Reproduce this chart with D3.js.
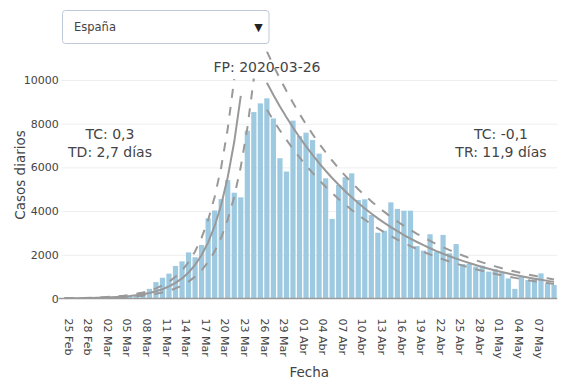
<!DOCTYPE html>
<html><head><meta charset="utf-8">
<script src="https://cdn.jsdelivr.net/npm/d3@7"></script>
<style>
body{margin:0;background:#fff}
svg{display:block}
text{font-family:"DejaVu Sans",Verdana,sans-serif;fill:#444}
</style>
</head><body>
<svg id="chart" width="567" height="387"></svg>
<script>
// ---------- data ----------
const startDate = "2020-02-24";
const casos = [3,5,8,12,18,25,35,45,60,80,110,180,290,440,750,950,1140,1490,1700,2110,1890,2450,3670,4030,4550,5420,4840,4630,7680,8530,8930,9160,8240,6420,5810,8140,7440,7590,7250,6630,5500,3640,5200,5550,5730,4510,4540,3820,3010,3100,4400,4100,4020,4020,2400,2190,2940,2140,2910,2070,2490,1580,1580,1460,1500,1230,1340,1200,920,440,1000,850,880,1150,700,620];

const growthStart = "2020-02-24";
const fitGrowth     = [9,12,15,20,25,33,42,55,71,91,118,153,197,255,330,426,551,712,920,1190,1538,1988,2569,3321,4292,5548,7172,9270];
const fitGrowthHigh = [13,17,21,28,35,46,59,77,99,127,165,214,276,357,462,596,771,997,1288,1666,2153,2783,3597,4649,6009,7767,10041];
const fitGrowthLow  = [6,8,10,13,16,21,27,36,46,59,77,99,128,166,215,277,358,463,598,774,1000,1292,1670,2159,2790,3606,4662,6026,7789,10068];

const decayStart = "2020-03-26";
const fitDecay     = [9876,9317,8790,8292,7823,7380,6962,6568,6196,5846,5515,5203,4908,4630,4368,4121,3888,3668,3460,3264,3079,2905,2741,2586,2439,2301,2171,2048,1932,1823,1720,1622,1530,1444,1362,1285,1212,1144,1079,1018,960,906,855,806,761];
const fitDecayHigh = [11308,10668,10065,9494,8957,8450,7971,7520,7094,6694,6315,5957,5620,5301,5001,4719,4452,4200,3962,3737,3525,3326,3138,2961,2793,2635,2486,2345,2212,2087,1969,1857,1752,1653,1559,1471,1388,1310,1235,1166,1099,1037,979,923,871];
const fitDecayLow  = [8642,8152,7691,7256,6845,6458,6092,5747,5422,5115,4826,4553,4295,4051,3822,3606,3402,3210,3028,2856,2694,2542,2398,2263,2134,2013,1900,1792,1691,1595,1505,1419,1339,1264,1192,1124,1061,1001,944,891,840,793,748,705,666];

const tickDates  = ["2020-02-25","2020-02-28","2020-03-02","2020-03-05","2020-03-08","2020-03-11","2020-03-14","2020-03-17","2020-03-20","2020-03-23","2020-03-26","2020-03-29","2020-04-01","2020-04-04","2020-04-07","2020-04-10","2020-04-13","2020-04-16","2020-04-19","2020-04-22","2020-04-25","2020-04-28","2020-05-01","2020-05-04","2020-05-07"];
const tickLabels = ["25 Feb","28 Feb","02 Mar","05 Mar","08 Mar","11 Mar","14 Mar","17 Mar","20 Mar","23 Mar","26 Mar","29 Mar","01 Abr","04 Abr","07 Abr","10 Abr","13 Abr","16 Abr","19 Abr","22 Abr","25 Abr","28 Abr","01 May","04 May","07 May"];
const yTicks = [0,2000,4000,6000,8000,10000];

const pais = "España";
const annLeft  = ["TC: 0,3","TD: 2,7 días"];
const annRight = ["TC: -0,1","TR: 11,9 días"];
const annPeak  = "FP: 2020-03-26";

// ---------- layout ----------
const M = {left:61.3, right:557.3, top:51.4, bottom:298.5};
const svg = d3.select("#chart");
const fmt = d3.utcFormat("%Y-%m-%d");
const parse = s => new Date(s + "T00:00:00Z");
const seq = (s, n) => d3.utcDay.range(parse(s), d3.utcDay.offset(parse(s), n)).map(fmt);

const days = seq(startDate, casos.length);
const x = d3.scaleBand().domain(days).range([M.left, M.right]).paddingInner(0.2).paddingOuter(0.1);
const xc = d => x(d) + x.bandwidth()/2;

const yMax = d3.max([].concat(casos, fitGrowth, fitGrowthHigh, fitGrowthLow, fitDecay, fitDecayHigh, fitDecayLow));
const y = d3.scaleLinear().domain([0, yMax]).range([M.bottom, M.top]);

svg.append("defs").append("clipPath").attr("id","clip")
  .append("rect").attr("x",M.left).attr("y",M.top).attr("width",M.right-M.left).attr("height",M.bottom-M.top);

// grid + y ticks
const yAxis = svg.append("g").attr("transform",`translate(${M.left},0)`)
  .call(d3.axisLeft(y).tickValues(yTicks).tickSize(-(M.right-M.left)).tickPadding(2.5).tickFormat(d3.format("d")));
yAxis.select(".domain").remove();
yAxis.selectAll(".tick line").attr("stroke","#eeeeee").attr("stroke-width",1)
  .filter(d => d === 0).remove();
yAxis.selectAll(".tick text").attr("font-size","11px").attr("fill","#444")
  .style("font-family",'"DejaVu Sans",Verdana,sans-serif');

// bars
svg.append("g").selectAll("rect").data(days.map((d,i)=>({d, v:casos[i]}))).join("rect")
  .attr("x", p => x(p.d)).attr("width", x.bandwidth())
  .attr("y", p => y(p.v)).attr("height", p => y(0) - y(p.v))
  .attr("fill","#9ecae1");

// zero line
svg.append("line").attr("x1",M.left-2.5).attr("x2",M.right).attr("y1",y(0)).attr("y2",y(0))
  .attr("stroke","#9a9a9a").attr("stroke-width",1.6);

// fit lines
const line = d3.line().x(p => xc(p.d)).y(p => y(p.v));
const series = (start, vals) => seq(start, vals.length).map((d,i)=>({d, v:vals[i]}));
const fits = [
  {s:growthStart, v:fitGrowth, dash:null},
  {s:growthStart, v:fitGrowthHigh, dash:"9,9"},
  {s:growthStart, v:fitGrowthLow, dash:"9,9"},
  {s:decayStart, v:fitDecay, dash:null},
  {s:decayStart, v:fitDecayHigh, dash:"9,9"},
  {s:decayStart, v:fitDecayLow, dash:"9,9"}
];
const gl = svg.append("g").attr("clip-path","url(#clip)");
fits.forEach(f => {
  gl.append("path").datum(series(f.s, f.v)).attr("d", line)
    .attr("fill","none").attr("stroke","#999").attr("stroke-width",2)
    .attr("stroke-dasharray", f.dash);
});

// x axis labels
const xAxis = svg.append("g").attr("transform",`translate(0,${M.bottom})`)
  .call(d3.axisBottom(x).tickValues(tickDates).tickSize(0).tickFormat((d,i)=>tickLabels[i]));
xAxis.select(".domain").remove();
xAxis.selectAll(".tick text")
  .attr("transform","rotate(90)").attr("x",20).attr("y",2.5).attr("dy","0.35em")
  .attr("text-anchor","start").attr("font-size","11px").attr("fill","#444")
  .style("font-family",'"DejaVu Sans",Verdana,sans-serif');

// axis titles
svg.append("text").attr("x",(M.left+M.right)/2).attr("y",377).attr("text-anchor","middle")
  .attr("font-size","13.5px").text("Fecha");
svg.append("text").attr("transform",`translate(20,${(M.top+M.bottom)/2}) rotate(-90)`)
  .attr("dy","0.35em").attr("text-anchor","middle").attr("font-size","13.5px").text("Casos diarios");

// annotations
function multi(xp, y0, lines){
  const t = svg.append("text").attr("text-anchor","middle").attr("font-size","14px");
  lines.forEach((s,i)=> t.append("tspan").attr("x",xp).attr("y",y0 + i*18).text(s));
}
multi(110, 139, annLeft);
multi(501, 139, annRight);
svg.append("text").attr("x",267).attr("y",71.5).attr("text-anchor","middle").attr("font-size","14px").text(annPeak);

// dropdown
const dd = svg.append("g");
dd.append("rect").attr("x",62.5).attr("y",10.5).attr("width",206.5).attr("height",33).attr("rx",3)
  .attr("fill","#fff").attr("stroke","#BEC8D9").attr("stroke-width",1);
dd.append("text").attr("x",74).attr("y",30.8).attr("font-size","11.5px").text(pais);
dd.append("text").attr("x",258.5).attr("y",30.5).attr("text-anchor","middle").attr("font-size","11px")
  .style("fill","#222").text("▼");
</script>
</body></html>
